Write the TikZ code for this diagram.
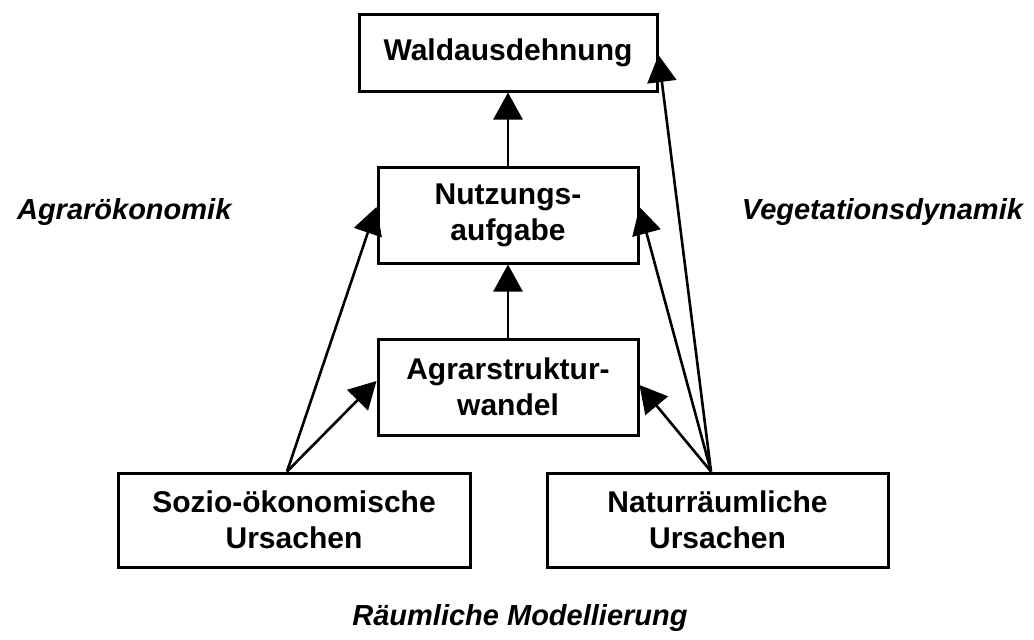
\documentclass[tikz,border=0pt]{standalone}
\usepackage{fontspec}
\setmainfont{Liberation Sans}
\usetikzlibrary{arrows.meta}
\begin{document}
\begin{tikzpicture}[
        x=0.5pt, y=-0.5pt,
        every node/.style={font=\fontsize{15}{18}\selectfont\bfseries},
        box/.style={draw, line width=1.5pt, align=center, inner sep=0pt},
        area/.style={font=\fontsize{14.5}{18}\selectfont\bfseries\itshape},
        cause/.style={draw, -{Triangle[length=13.5pt,width=14.5pt]}, line width=1.3pt},
    ]
    \useasboundingbox (0,0) rectangle (1034,639);
    \node[box, minimum width=149pt, minimum height=38.5pt](wald) at (508,52.5){Waldausdehnung};
    \node[box, minimum width=130pt, minimum height=48pt](nutz) at (508,215){Nutzungs-\\aufgabe};
    \node[box, minimum width=130pt, minimum height=48pt](agrar) at (508,387){Agrarstruktur-\\wandel};
    \node[box, minimum width=176pt, minimum height=47pt](sozio) at (294,520){Sozio-ökonomische\\Ursachen};
    \node[box, minimum width=170.5pt, minimum height=47pt](natur) at (717.5,520){Naturräumliche\\Ursachen};
    % fields of research
    \node[area, anchor=west](agroek) at (10,212){Agrarökonomik};
    \node[area, anchor=east](veget) at (1030,212){Vegetationsdynamik};
    \node[area](raum) at (520,618){Räumliche Modellierung};
    % causes
    \coordinate (soz) at ([xshift=-3.5pt]sozio.north);
    \coordinate (nat) at ([xshift=-3.25pt]natur.north);
    \draw[cause] (agrar.north) -- (nutz.south);
    \draw[cause] (nutz.north) -- (wald.south);
    \draw[cause] (soz) -- ([yshift=4pt]nutz.west);
    \draw[cause] (soz) -- ([yshift=3pt]agrar.west);
    \draw[cause] (nat) -- ([yshift=4pt]nutz.east);
    \draw[cause] (nat) -- ([yshift=1pt]agrar.east);
    \draw[cause] (nat) -- ([yshift=-1.25pt]wald.east);
\end{tikzpicture}
\end{document}
